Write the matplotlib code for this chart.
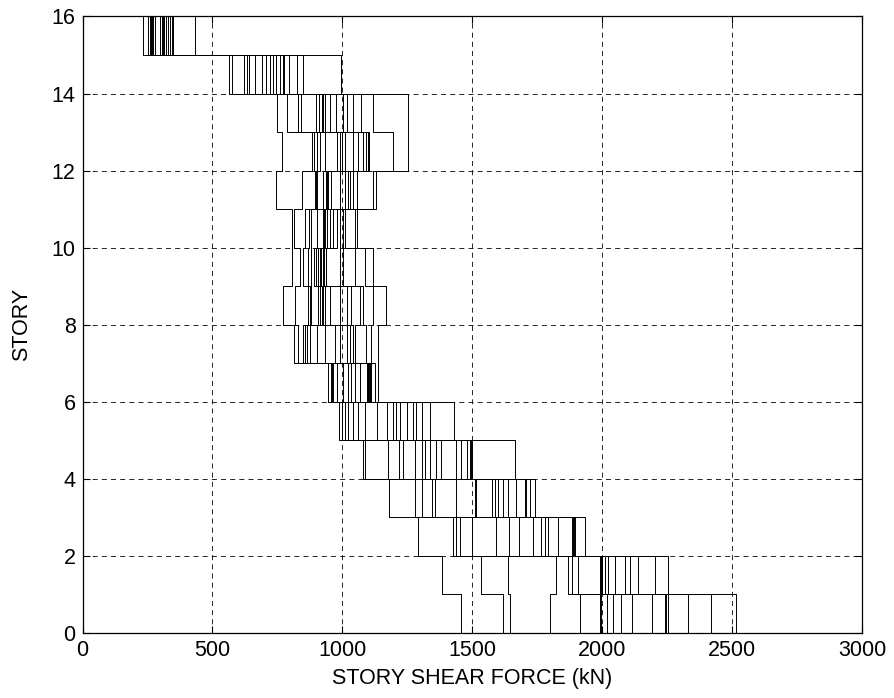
import numpy as np
import matplotlib
matplotlib.use("Agg")
import matplotlib.pyplot as plt

# Story shear (kN), one list per story, records in ascending order.
story_01 = [1458, 1619, 1644, 1798, 1913, 1990, 1997, 2018, 2042, 2074, 2116, 2193, 2240, 2247, 2253, 2330, 2420, 2516]
story_02 = [1385, 1535, 1638, 1824, 1868, 1882, 1907, 1990, 1997, 2000, 2010, 2022, 2048, 2087, 2106, 2138, 2202, 2253]
story_03 = [1292, 1424, 1437, 1452, 1497, 1590, 1640, 1680, 1734, 1766, 1779, 1792, 1830, 1882, 1888, 1890, 1894, 1935]
story_04 = [1180, 1279, 1305, 1343, 1356, 1439, 1510, 1516, 1574, 1587, 1599, 1618, 1638, 1670, 1702, 1705, 1721, 1740]
story_05 = [1080, 1087, 1176, 1218, 1234, 1279, 1305, 1317, 1337, 1362, 1381, 1439, 1458, 1478, 1490, 1495, 1500, 1666]
story_06 = [988, 997, 1010, 1022, 1042, 1061, 1087, 1132, 1172, 1195, 1208, 1221, 1247, 1272, 1285, 1305, 1337, 1430]
story_07 = [945, 955, 960, 965, 978, 1003, 1022, 1035, 1048, 1067, 1093, 1099, 1100, 1103, 1106, 1112, 1125, 1138]
story_08 = [813, 830, 849, 856, 858, 862, 875, 903, 933, 971, 990, 1016, 1029, 1040, 1048, 1090, 1112, 1138]
story_09 = [772, 817, 869, 875, 881, 907, 912, 920, 925, 933, 952, 990, 1016, 1035, 1067, 1078, 1118, 1167]
story_10 = [807, 837, 847, 869, 881, 890, 898, 907, 913, 918, 924, 930, 937, 990, 1003, 1048, 1087, 1118]
story_11 = [808, 815, 856, 870, 881, 903, 924, 928, 933, 940, 952, 965, 978, 990, 1003, 1010, 1048, 1055]
story_12 = [744, 843, 894, 900, 903, 926, 937, 940, 945, 958, 990, 1010, 1022, 1030, 1042, 1055, 1118, 1131]
story_13 = [766, 884, 890, 903, 913, 933, 978, 991, 1000, 1010, 1042, 1061, 1080, 1091, 1100, 1103, 1196, 1251]
story_14 = [747, 788, 830, 830, 839, 898, 911, 920, 925, 933, 952, 975, 1003, 1016, 1039, 1070, 1118, 1251]
story_15 = [565, 574, 621, 632, 640, 663, 689, 705, 720, 734, 743, 760, 770, 776, 795, 824, 848, 993]
story_16 = [231, 253, 258, 262, 265, 268, 272, 279, 300, 305, 311, 315, 320, 328, 337, 343, 349, 434]

stories = [story_01, story_02, story_03, story_04, story_05, story_06, story_07, story_08,
           story_09, story_10, story_11, story_12, story_13, story_14, story_15, story_16]

plt.rcParams['font.family'] = ['Liberation Sans', 'DejaVu Sans']

fig = plt.figure(figsize=(8.94, 6.98), dpi=100)
ax = fig.add_axes([0.0923, 0.0931, 0.872, 0.8833])

shear = np.array(stories)          # shape (16 stories, n records)
levels = np.arange(len(stories) + 1)
for rec in range(shear.shape[1]):
    v = shear[:, rec]
    xs = np.repeat(v, 2)
    ys = np.repeat(levels, 2)[1:-1]
    ax.plot(xs, ys, color='black', lw=0.7)

ax.set_xlim(0, 3000)
ax.set_ylim(0, 16)
ax.set_xticks(np.arange(0, 3001, 500))
ax.set_yticks(np.arange(0, 17, 2))
ax.grid(True, color='black', ls=(0, (6, 5)), lw=0.6)
ax.set_axisbelow(True)
ax.tick_params(direction='in', top=True, right=True, labelsize=15.5, length=5, pad=5)
for s in ax.spines.values():
    s.set_linewidth(0.9)

ax.set_xlabel('STORY SHEAR FORCE (kN)', fontsize=15.5, labelpad=5)
ax.set_ylabel('STORY', fontsize=15.5, labelpad=14)

fig.savefig('out.png', dpi=100)
